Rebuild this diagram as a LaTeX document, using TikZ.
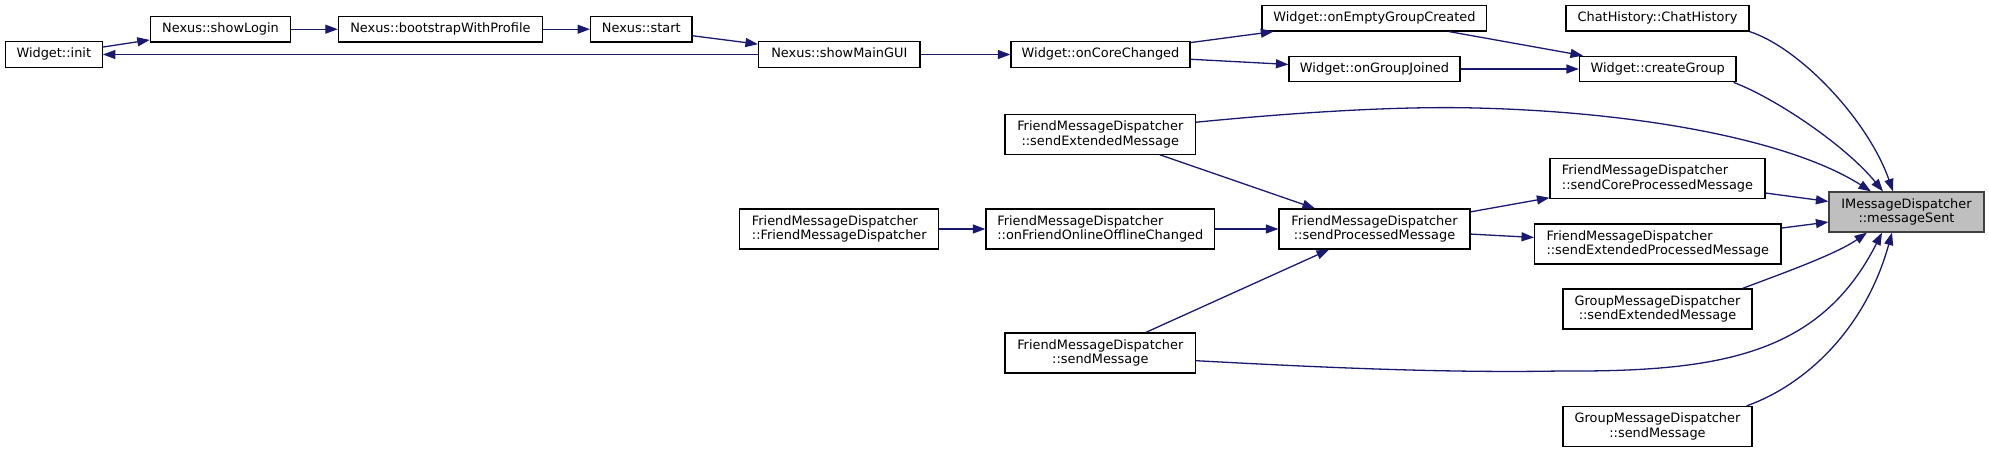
\documentclass[tikz,border=0pt]{standalone}
\usepackage{fontspec}
\setmainfont{DejaVu Sans}
\usetikzlibrary{arrows.meta}
\definecolor{edgecol}{HTML}{191970}
\definecolor{rootfill}{HTML}{BFBFBF}
\definecolor{rootdraw}{HTML}{404040}
\begin{document}
\begin{tikzpicture}[x=1pt,y=-1pt,
  every node/.style={font=\fontsize{12.9}{14.5}\selectfont},
  box/.style={draw=black, fill=white, line width=1.2pt, inner sep=0pt, minimum height=25.6pt, text height=9.8pt, text depth=3pt},
  tbox/.style={draw=black, fill=white, line width=1.2pt, inner sep=0pt, minimum height=40pt, align=center},
  lbox/.style={tbox, align=left},
  root/.style={tbox, draw=rootdraw, fill=rootfill},
  edge/.style={draw=edgecol, line width=1.3pt, -{Triangle[length=12.5pt,width=9pt]}}
]
\useasboundingbox (0,0) rectangle (1989,453);

% nodes
\node[box, minimum width=97pt]    (init)   at (53.8,54.5)   {Widget::init};
\node[box, minimum width=140.2pt] (login)  at (220.5,29.2)  {Nexus::showLogin};
\node[box, minimum width=204pt]   (boot)   at (440.4,29.2)  {Nexus::bootstrapWithProfile};
\node[box, minimum width=101.4pt] (start)  at (641.3,29.2)  {Nexus::start};
\node[box, minimum width=161.5pt] (gui)    at (839.3,54.5)  {Nexus::showMainGUI};
\node[box, minimum width=179pt]   (core)   at (1100.5,54.5) {Widget::onCoreChanged};
\node[box, minimum width=224.7pt] (empty)  at (1374.4,18.2) {Widget::onEmptyGroupCreated};
\node[box, minimum width=171pt]   (joined) at (1374.5,69)   {Widget::onGroupJoined};
\node[box, minimum width=183pt]   (ch)     at (1657.5,18.2) {ChatHistory::ChatHistory};
\node[box, minimum width=156.5pt] (cg)     at (1657.7,69)   {Widget::createGroup};

\node[tbox, minimum width=190.5pt] (fse)   at (1100.3,134.2) {FriendMessageDispatcher\\::sendExtendedMessage};
\node[lbox, minimum width=199pt]   (ctor)  at (839.3,229)    {FriendMessageDispatcher\\::FriendMessageDispatcher};
\node[lbox, minimum width=228.7pt] (onf)   at (1100.3,229)   {FriendMessageDispatcher\\::onFriendOnlineOfflineChanged};
\node[tbox, minimum width=191pt]   (sp)    at (1374.5,229)   {FriendMessageDispatcher\\::sendProcessedMessage};
\node[lbox, minimum width=215pt]   (sc)    at (1657.5,178.5) {FriendMessageDispatcher\\::sendCoreProcessedMessage};
\node[root, minimum width=155pt]   (ms)    at (1906.5,212)   {IMessageDispatcher\\::messageSent};
\node[lbox, minimum width=246.4pt] (sep)   at (1657.8,244)   {FriendMessageDispatcher\\::sendExtendedProcessedMessage};
\node[tbox, minimum width=189pt]   (gse)   at (1657.5,309)   {GroupMessageDispatcher\\::sendExtendedMessage};
\node[tbox, minimum width=190.5pt] (fsm)   at (1100.3,353)   {FriendMessageDispatcher\\::sendMessage};
\node[tbox, minimum width=189pt]   (gsm)   at (1657.5,426.5) {GroupMessageDispatcher\\::sendMessage};

% straight edges
\draw[edge] (init) -- (login);
\draw[edge] (login) -- (boot);
\draw[edge] (boot) -- (start);
\draw[edge] (start) -- (gui);
\draw[edge] (gui) -- (init);
\draw[edge] (gui) -- (core);
\draw[edge] (core) -- (empty);
\draw[edge] (core) -- (joined);
\draw[edge] (empty) -- (cg);
\draw[edge] (joined) -- (cg);
\draw[edge] (fse) -- (sp);
\draw[edge] (ctor) -- (onf);
\draw[edge] (onf) -- (sp);
\draw[edge] (fsm) -- (sp);
\draw[edge] (sp) -- (sc);
\draw[edge] (sp) -- (sep);
\draw[edge] (sc) -- (ms);
\draw[edge] (sep) -- (ms);

% curved edges into messageSent
\draw[edge] (ch.south east) .. controls (1800,48) and (1868,120) .. ([xshift=-13.5pt]ms.north);
\draw[edge] ([xshift=-3pt]cg.south east) .. controls (1775,98) and (1845,145) .. ([xshift=-23.5pt]ms.north);
\draw[edge] ([yshift=12pt]fse.east) .. controls (1300,112) and (1400,106) .. (1476,108)
   .. controls (1640,112) and (1790,140) .. ([xshift=-35.5pt]ms.north);
\draw[edge] ([xshift=-10pt]gse.north east) .. controls (1775,276) and (1835,255) .. ([xshift=-39.5pt]ms.south);
\draw[edge] ([yshift=-7.7pt]fsm.east) .. controls (1330,368) and (1450,373) .. (1560,371)
   .. controls (1720,372) and (1820,355) .. ([xshift=-24.5pt]ms.south);
\draw[edge] ([xshift=-6pt]gsm.north east) .. controls (1805,385) and (1865,330) .. ([xshift=-14.5pt]ms.south);
\end{tikzpicture}
\end{document}
